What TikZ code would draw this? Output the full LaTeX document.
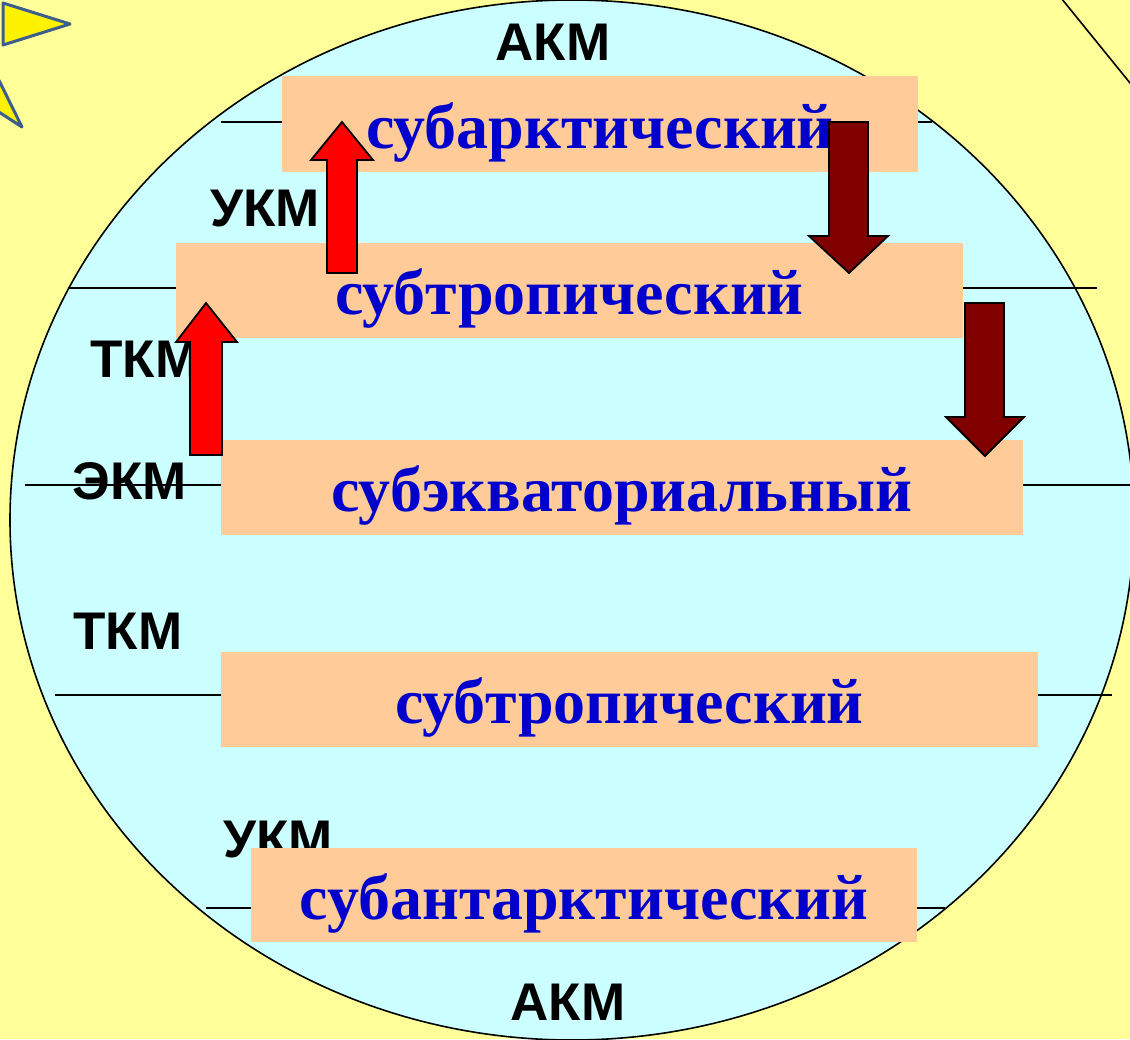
\documentclass[tikz,border=0pt]{standalone}
\usepackage{fontspec}
\setmainfont{Liberation Serif}
\setsansfont{Liberation Sans}
\usetikzlibrary{positioning}

\definecolor{bgyellow}{HTML}{FFFF99}
\definecolor{globecyan}{HTML}{CCFFFF}
\definecolor{peach}{HTML}{FFCC99}
\definecolor{zoneblue}{HTML}{0000CC}
\definecolor{darkred}{HTML}{800000}
\definecolor{tristroke}{HTML}{3B5E8C}

\tikzset{
  zone/.style={fill=peach, text=zoneblue, inner sep=0pt,
    text height=48pt, text depth=0pt,
    font=\fontsize{64}{64}\selectfont\bfseries},
  mass/.style={inner sep=0pt, font=\fontsize{53}{53}\selectfont\sffamily\bfseries},
  parallel/.style={line width=1.6pt},
  warmarrow/.style={fill=red, draw=black, line width=1.8pt, line join=miter},
  coldarrow/.style={fill=darkred, draw=black, line width=1.8pt, line join=miter},
  marker/.style={fill=yellow, draw=tristroke, line width=3pt, line join=round}
}

\begin{document}
\begin{tikzpicture}[x=1pt, y=-1pt]
    % page and background
    \useasboundingbox (0,0) rectangle (1130,1039);
    \fill[bgyellow] (0,0) rectangle (1130,1039);

    % corner markers
    \draw[marker] (3,3) -- (70,24) -- (3,45) -- cycle;
    \draw[marker] (-15,52) -- (22,127) -- (-15,103) -- cycle;
    \draw[line width=1.6pt] (1040,-28) -- (1160,120);

    % globe
    \draw[fill=globecyan, line width=1.6pt] (572,520) ellipse [x radius=562, y radius=520];

    % parallels
    \draw[parallel] (221,122) -- (932,122);
    \draw[parallel] (68,288) -- (1097,288);
    \draw[parallel] (25,485) -- (1130,485);
    \draw[parallel] (55,695) -- (1112,695);
    \draw[parallel] (206,908) -- (945,908);

    % air masses
    \node[mass] (akmN) at (553,42) {АКМ};
    \node[mass] (ukmN) at (265,209) {УКМ};
    \node[mass] (tkmN) at (145,359) {ТКМ};
    \node[mass] (ekm) at (130,481) {ЭКМ};
    \node[mass] (tkmS) at (128,631) {ТКМ};
    \node[mass] (ukmS) at (278,840) {УКМ};
    \node[mass] (akmS) at (568,1002) {АКМ};

    % transitional belts
    \node[zone, minimum width=636pt, minimum height=96pt] (subarc) at (600,124) {субарктический};
    \node[zone, minimum width=787pt, minimum height=95pt] (subtropN) at (569.5,290.5) {субтропический};
    \node[zone, minimum width=802pt, minimum height=95pt] (subeq) at (622,487.5) {субэкваториальный};
    \node[zone, minimum width=817pt, minimum height=95pt] (subtropS) at (629.5,699.5) {субтропический};
    \node[zone, minimum width=666pt, minimum height=94pt] (subant) at (584,895) {субантарктический};

    % summer shift (up)
    \draw[warmarrow] (327,273) -- (327,160) -- (311,160) -- (342,122) -- (373,160) -- (357,160) -- (357,273) -- cycle;
    \draw[warmarrow] (190,455) -- (190,342) -- (176,342) -- (206,303) -- (237,342) -- (222,342) -- (222,455) -- cycle;

    % winter shift (down)
    \draw[coldarrow] (829,122) -- (829,236) -- (809,236) -- (849,273) -- (888,236) -- (868,236) -- (868,122) -- cycle;
    \draw[coldarrow] (965,303) -- (965,417) -- (946,417) -- (985,456) -- (1024,417) -- (1004,417) -- (1004,303) -- cycle;

\end{tikzpicture}
\end{document}
